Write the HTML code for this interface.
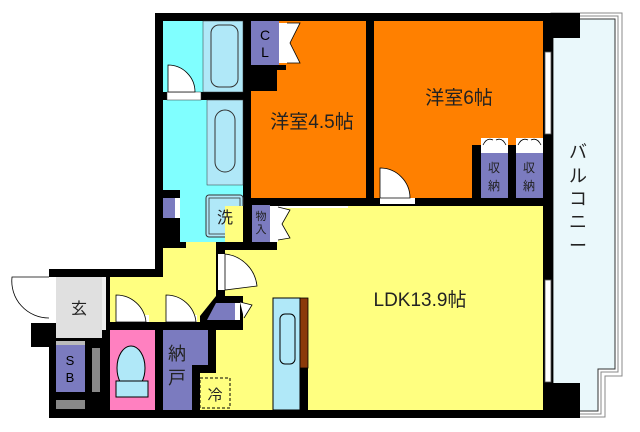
<!DOCTYPE html>
<html><head><meta charset="utf-8"><style>
html,body{margin:0;padding:0;background:#fff;}
svg{display:block;}
text{font-family:"Liberation Sans","Noto Sans CJK JP",sans-serif;}
</style></head><body>
<svg width="640" height="432" viewBox="0 0 640 432" xmlns="http://www.w3.org/2000/svg">
<!-- balcony -->
<path d="M551 13 H622 V376 H605 V417 H551 Z" fill="#fff" stroke="#888" stroke-width="1"/>
<path d="M553 16 H618 V372 H601 V414 H553 Z" fill="#fff" stroke="#888" stroke-width="1"/>
<path d="M553 19 H615 V369 H598 V411 H553 Z" fill="#eaf8fb" stroke="#333" stroke-width="1"/>
<!-- black base -->
<rect x="155" y="13" width="398" height="405" fill="#000"/>
<rect x="543" y="13" width="37" height="25" fill="#000"/>
<rect x="543" y="383" width="37" height="35" fill="#000"/>
<rect x="49" y="269" width="114" height="149" fill="#000"/>
<rect x="31" y="323" width="25" height="24" fill="#000"/>
<!-- balcony windows -->
<rect x="545" y="52" width="6" height="82" fill="#fff" stroke="#555" stroke-width="0.8"/>
<rect x="545" y="280" width="6" height="102" fill="#fff" stroke="#555" stroke-width="0.8"/>
<!-- rooms -->
<rect x="251" y="21" width="115" height="177" fill="#ff8000"/>
<rect x="374" y="21" width="169" height="177" fill="#ff8000"/>
<rect x="472" y="145" width="71" height="53" fill="#000"/>
<rect x="481" y="153" width="27" height="45" fill="#7b7bbf"/>
<rect x="516" y="153" width="27" height="45" fill="#7b7bbf"/>
<rect x="481" y="138" width="27" height="15" fill="#fff"/>
<rect x="516" y="138" width="27" height="15" fill="#fff"/>
<path d="M483 145 q4 -8 10 -5 M506 145 q-4 -8 -10 -5 M518 145 q4 -8 10 -5 M541 145 q-4 -8 -10 -5" stroke="#000" fill="none" stroke-width="0.8"/>
<!-- CL -->
<rect x="251" y="21" width="28" height="44" fill="#7b7bbf"/>
<rect x="251" y="65" width="35" height="5" fill="#000"/>
<rect x="251" y="70" width="26" height="21" fill="#000"/>
<rect x="279" y="23" width="8" height="40" fill="#fff"/>
<path d="M287 23 L300 23 L290 43 L300 63 L287 63" fill="#fff" stroke="#000" stroke-width="0.8"/>
<!-- cyan -->
<rect x="163" y="21" width="80" height="71" fill="#80ffff"/>
<rect x="163" y="100" width="80" height="142" fill="#80ffff"/>
<rect x="163" y="190" width="17" height="58" fill="#000"/>
<rect x="163" y="198" width="12" height="20" fill="#7b7bbf"/>
<rect x="175" y="198" width="5" height="20" fill="#fff"/>
<rect x="203" y="21" width="40" height="71" fill="#b0e8f8" stroke="#333" stroke-width="0.5"/>
<rect x="211" y="25" width="27" height="62" rx="8" fill="#b0e8f8" stroke="#333" stroke-width="1"/>
<rect x="207" y="100" width="36" height="85" fill="#b0e8f8" stroke="#333" stroke-width="0.5"/>
<rect x="215" y="110" width="20" height="62" rx="10" fill="#b0e8f8" stroke="#333" stroke-width="1"/>
<rect x="206" y="195" width="37" height="42" rx="3" fill="#b0e8f8" stroke="#333" stroke-width="1"/>
<rect x="209" y="198" width="31" height="36" fill="#b0e8f8" stroke="#333" stroke-width="0.8"/>
<rect x="167" y="92" width="34" height="8" fill="#fff" stroke="#333" stroke-width="0.5"/>
<path d="M168 92 V65 A27 27 0 0 1 195 92 Z" fill="#fff" stroke="#000" stroke-width="0.8"/>
<!-- LDK + hall -->
<rect x="225" y="206" width="318" height="204" fill="#ffff80"/>
<rect x="278" y="206" width="70" height="2" fill="#fff"/>
<rect x="110" y="277" width="53" height="133" fill="#ffff80"/>
<rect x="163" y="248" width="62" height="162" fill="#ffff80"/>
<rect x="186" y="242" width="30" height="6" fill="#ffff80"/>
<rect x="243" y="206" width="9" height="44" fill="#000"/>
<rect x="225" y="242" width="52" height="8" fill="#000"/>
<rect x="216" y="242" width="9" height="54" fill="#000"/>
<rect x="252" y="205" width="18" height="37" fill="#7b7bbf"/>
<rect x="270" y="206" width="8" height="36" fill="#fff"/>
<path d="M278 207 L290 210 L282 224 L290 238 L278 240" fill="#fff" stroke="#000" stroke-width="0.8"/>
<rect x="218" y="254" width="7" height="36" fill="#fff"/>
<path d="M225 290 V254 A36 36 0 0 1 257 286 Z" fill="#fff" stroke="#000" stroke-width="0.8"/>
<!-- doors bedrooms -->
<rect x="380" y="198" width="35" height="6" fill="#fff"/>
<path d="M380 198 V168 A30 30 0 0 1 410 198 Z" fill="#fff" stroke="#000" stroke-width="0.8"/>
<!-- angled closet -->
<path d="M200 330 V316 L216 296 H243 V330 Z" fill="#000"/>
<path d="M207 320 L216 303 H235 V320 Z" fill="#7b7bbf"/>
<rect x="235" y="303" width="5" height="17" fill="#fff"/>
<path d="M240 302 L252 305 L244 318" fill="#fff" stroke="#000" stroke-width="0.8"/>
<!-- walls hall -->
<rect x="102" y="277" width="8" height="133" fill="#000"/>
<rect x="102" y="277" width="4" height="53" fill="#eee"/>
<rect x="155" y="322" width="8" height="88" fill="#000"/>
<rect x="110" y="322" width="106" height="8" fill="#000"/>
<path d="M208 330 H216 V373 H200 V410 H192 V365 H208 Z" fill="#000"/>
<!-- toilet -->
<rect x="110" y="330" width="45" height="80" fill="#ff80c0"/>
<rect x="116" y="315" width="33" height="7" fill="#fff"/>
<path d="M116 315 V295 A30 30 0 0 1 146 322 H116 Z" fill="#fff" stroke="#000" stroke-width="0.8"/>
<ellipse cx="131" cy="368" rx="14" ry="22" fill="#b0e8f8" stroke="#000"/>
<rect x="116" y="381" width="32" height="16" fill="#b0e8f8" stroke="#000"/>
<!-- nando -->
<path d="M163 330 H208 V365 H192 V410 H163 Z" fill="#7b7bbf"/>
<rect x="166" y="315" width="31" height="7" fill="#fff"/>
<path d="M166 315 V295 A30 30 0 0 1 196 322 H166 Z" fill="#fff" stroke="#000" stroke-width="0.8"/>
<rect x="200" y="378" width="30" height="30" fill="none" stroke="#000" stroke-dasharray="3,2"/>
<!-- entrance -->
<rect x="56" y="277" width="46" height="61" fill="#e0e0e0"/>
<rect x="49" y="277" width="7" height="46" fill="#fff"/>
<path d="M49 277 H12 A37 37 0 0 0 49 318" fill="#fff" stroke="#000" stroke-width="0.8"/>
<rect x="56" y="345" width="29" height="47" fill="#7b7bbf"/>
<rect x="56" y="341" width="29" height="4" fill="#bbb"/>
<rect x="92" y="348" width="8" height="44" fill="#888"/>
<rect x="56" y="400" width="29" height="9" fill="#888"/>
<!-- counter -->
<rect x="273" y="298" width="27" height="112" fill="#b0e8f8" stroke="#000" stroke-width="1"/>
<rect x="280" y="314" width="15" height="50" rx="5" fill="#b0e8f8" stroke="#000"/>
<rect x="300" y="298" width="8" height="70" fill="#8b3a0a" stroke="#000" stroke-width="0.8"/>
<rect x="300" y="368" width="8" height="42" fill="#000"/>
<!-- labels -->
<text x="312" y="128" font-size="19" text-anchor="middle" fill="#222">洋室4.5帖</text>
<text x="459" y="104" font-size="19" text-anchor="middle" fill="#222">洋室6帖</text>
<text x="420" y="306" font-size="19" text-anchor="middle" fill="#222">LDK13.9帖</text>
<text x="265" y="40" font-size="14" text-anchor="middle" fill="#000">C</text>
<text x="265" y="57" font-size="14" text-anchor="middle" fill="#000">L</text>
<text x="494" y="172" font-size="12" text-anchor="middle" fill="#222">収</text>
<text x="494" y="190" font-size="12" text-anchor="middle" fill="#222">納</text>
<text x="529" y="172" font-size="12" text-anchor="middle" fill="#222">収</text>
<text x="529" y="190" font-size="12" text-anchor="middle" fill="#222">納</text>
<text x="225" y="223" font-size="16" text-anchor="middle" fill="#222">洗</text>
<text x="261" y="220" font-size="11" text-anchor="middle" fill="#222">物</text>
<text x="261" y="233" font-size="11" text-anchor="middle" fill="#222">入</text>
<text x="79" y="314" font-size="16" text-anchor="middle" fill="#222">玄</text>
<text x="70" y="365" font-size="13" text-anchor="middle" fill="#000">S</text>
<text x="70" y="382" font-size="13" text-anchor="middle" fill="#000">B</text>
<text x="177" y="360" font-size="18" text-anchor="middle" fill="#222">納</text>
<text x="177" y="384" font-size="18" text-anchor="middle" fill="#222">戸</text>
<text x="215" y="400" font-size="15" text-anchor="middle" fill="#222">冷</text>
<g font-size="18" text-anchor="middle" fill="#222">
<text x="578" y="158">バ</text>
<text x="578" y="182">ル</text>
<text x="578" y="205">コ</text>
<text x="578" y="228">ニ</text>
<text x="578" y="252">ー</text>
</g>
</svg>
</body></html>
